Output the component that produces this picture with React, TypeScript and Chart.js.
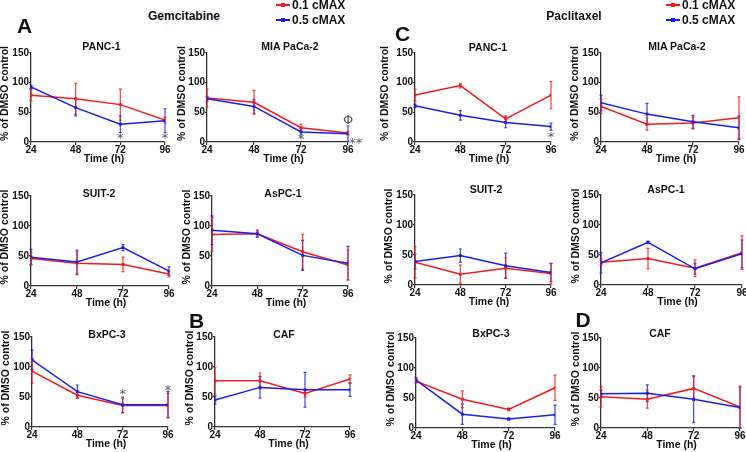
import React, { useEffect, useRef } from 'react';
import { Chart, registerables } from 'chart.js';

Chart.register(...registerables);

// ---------- data ----------
const times = [24, 48, 72, 96];
const yTickValues = [0, 50, 100, 150];
const seriesNames = ['0.1 cMAX', '0.5 cMAX'];
const drugNames = ['Gemcitabine', 'Paclitaxel'];

// Gemcitabine
const gemPanc1Low = [79, 73, 63, 37];
const gemPanc1LowErr = [9, 26, 26, 5];
const gemPanc1High = [93, 58, 30, 36];
const gemPanc1HighErr = [3, 14, 14, 20];

const gemMiaLow = [74, 67, 24, 15];
const gemMiaLowErr = [15, 20, 6, 3];
const gemMiaHigh = [73, 60, 17, 14];
const gemMiaHighErr = [4, 12, 5, 13];

const gemSuit2Low = [46, 38, 36, 20];
const gemSuit2LowErr = [10, 19, 12, 5];
const gemSuit2High = [48, 40, 64, 25];
const gemSuit2HighErr = [13, 20, 5, 7];

const gemAspc1Low = [86, 87, 57, 35];
const gemAspc1LowErr = [28, 5, 29, 25];
const gemAspc1High = [93, 87, 51, 38];
const gemAspc1HighErr = [24, 6, 25, 28];

const gemBxpc3Low = [93, 53, 36, 36];
const gemBxpc3LowErr = [20, 5, 12, 20];
const gemBxpc3High = [112, 59, 37, 37];
const gemBxpc3HighErr = [16, 11, 13, 22];

const gemCafLow = [77, 77, 56, 80];
const gemCafLowErr = [22, 13, 6, 7];
const gemCafHigh = [45, 66, 62, 62];
const gemCafHighErr = [7, 18, 29, 11];

// Paclitaxel
const pacPanc1Low = [79, 95, 39, 79];
const pacPanc1LowErr = [10, 4, 5, 23];
const pacPanc1High = [61, 45, 33, 26];
const pacPanc1HighErr = [3, 8, 9, 6];

const pacMiaLow = [60, 30, 32, 41];
const pacMiaLowErr = [12, 10, 10, 35];
const pacMiaHigh = [66, 47, 34, 24];
const pacMiaHighErr = [13, 18, 11, 20];

const pacSuit2Low = [38, 18, 28, 19];
const pacSuit2LowErr = [26, 15, 17, 17];
const pacSuit2High = [39, 49, 32, 21];
const pacSuit2HighErr = [12, 11, 21, 15];

const pacAspc1Low = [38, 44, 28, 54];
const pacAspc1LowErr = [5, 17, 14, 28];
const pacAspc1High = [37, 71, 27, 52];
const pacAspc1HighErr = [17, 2, 9, 23];

const pacBxpc3Low = [78, 48, 31, 67];
const pacBxpc3LowErr = [3, 14, 2, 21];
const pacBxpc3High = [80, 23, 15, 22];
const pacBxpc3HighErr = [4, 17, 2, 16];

const pacCafLow = [52, 48, 66, 35];
const pacCafLowErr = [17, 15, 20, 35];
const pacCafHigh = [57, 58, 48, 34];
const pacCafHighErr = [6, 14, 39, 34];

// significance marks (data coordinates)
const gemPanc1Marks = [{ x: 72, y: 9, t: '*' }, { x: 96, y: 9, t: '*' }];
const gemMiaMarks = [{ x: 72, y: 7, t: '*' }, { x: 96, y: 39, t: 'Φ' }, { x: 100, y: 0, t: '**' }];
const gemBxpc3Marks = [{ x: 72, y: 57, t: '*' }, { x: 96, y: 64, t: '*' }];
const pacPanc1Marks = [{ x: 96, y: 11, t: '*' }];

// ---------- style ----------
const FONT = '"Liberation Sans", Arial, Helvetica, sans-serif';
const RED = 'rgb(240,28,28)';
const BLUE = 'rgb(28,28,240)';
const AX = '#333';

type Panel = {
  title: string;
  low: number[]; lowErr: number[]; high: number[]; highErr: number[];
  marks?: { x: number; y: number; t: string }[];
  L: number; R: number; T: number; B: number;
  tx: number; ty: number; yt: number;
};

const panels: Panel[] = [
  { title: 'PANC-1', low: gemPanc1Low, lowErr: gemPanc1LowErr, high: gemPanc1High, highErr: gemPanc1HighErr, marks: gemPanc1Marks, L: 31, R: 165, T: 53, B: 142, tx: 101.5, ty: 46, yt: -26 },
  { title: 'MIA PaCa-2', low: gemMiaLow, lowErr: gemMiaLowErr, high: gemMiaHigh, highErr: gemMiaHighErr, marks: gemMiaMarks, L: 207, R: 348, T: 53, B: 142, tx: 290, ty: 46, yt: -25 },
  { title: 'SUIT-2', low: gemSuit2Low, lowErr: gemSuit2LowErr, high: gemSuit2High, highErr: gemSuit2HighErr, L: 31, R: 169, T: 196, B: 286, tx: 99, ty: 193, yt: -26 },
  { title: 'AsPC-1', low: gemAspc1Low, lowErr: gemAspc1LowErr, high: gemAspc1High, highErr: gemAspc1HighErr, L: 212, R: 348, T: 196, B: 286, tx: 283, ty: 193, yt: -25 },
  { title: 'BxPC-3', low: gemBxpc3Low, lowErr: gemBxpc3LowErr, high: gemBxpc3High, highErr: gemBxpc3HighErr, marks: gemBxpc3Marks, L: 32, R: 168, T: 337, B: 427, tx: 107, ty: 334, yt: -26 },
  { title: 'CAF', low: gemCafLow, lowErr: gemCafLowErr, high: gemCafHigh, highErr: gemCafHighErr, L: 215, R: 350, T: 337, B: 427, tx: 284, ty: 334, yt: -25 },
  { title: 'PANC-1', low: pacPanc1Low, lowErr: pacPanc1LowErr, high: pacPanc1High, highErr: pacPanc1HighErr, marks: pacPanc1Marks, L: 415, R: 551, T: 53, B: 142, tx: 488, ty: 47, yt: -30 },
  { title: 'MIA PaCa-2', low: pacMiaLow, lowErr: pacMiaLowErr, high: pacMiaHigh, highErr: pacMiaHighErr, L: 601, R: 739, T: 53, B: 142, tx: 677, ty: 46, yt: -26 },
  { title: 'SUIT-2', low: pacSuit2Low, lowErr: pacSuit2LowErr, high: pacSuit2High, highErr: pacSuit2HighErr, L: 415, R: 551, T: 195, B: 285, tx: 486, ty: 189, yt: -26 },
  { title: 'AsPC-1', low: pacAspc1Low, lowErr: pacAspc1LowErr, high: pacAspc1High, highErr: pacAspc1HighErr, L: 601, R: 742, T: 195, B: 285, tx: 666, ty: 189, yt: -25 },
  { title: 'BxPC-3', low: pacBxpc3Low, lowErr: pacBxpc3LowErr, high: pacBxpc3High, highErr: pacBxpc3HighErr, L: 416, R: 555, T: 338, B: 428, tx: 491, ty: 333, yt: -25 },
  { title: 'CAF', low: pacCafLow, lowErr: pacCafLowErr, high: pacCafHigh, highErr: pacCafHighErr, L: 601, R: 740, T: 338, B: 428, tx: 660, ty: 333, yt: -25 },
];

const PAD_L = 36, PAD_T = 22, PAD_R = 16, PAD_B = 26;

const errorBarsPlugin = {
  id: 'errorBars',
  beforeDatasetsDraw(chart: any) {
    const ctx = chart.ctx;
    const xs = chart.scales.x, ys = chart.scales.y;
    chart.data.datasets.forEach((ds: any) => {
      ctx.save();
      ctx.strokeStyle = ds.borderColor;
      ctx.globalAlpha = 0.85;
      ctx.lineWidth = 1.2;
      ds.data.forEach((pt: any, j: number) => {
        const e = ds.err[j];
        const x = xs.getPixelForValue(pt.x);
        const yTop = ys.getPixelForValue(pt.y + e);
        const yBot = ys.getPixelForValue(Math.max(pt.y - e, 0));
        ctx.beginPath();
        ctx.moveTo(x, yTop); ctx.lineTo(x, yBot);
        ctx.moveTo(x - 1.5, yTop); ctx.lineTo(x + 1.5, yTop);
        ctx.moveTo(x - 1.5, yBot); ctx.lineTo(x + 1.5, yBot);
        ctx.stroke();
      });
      ctx.restore();
    });
  },
};

const labelsPlugin = {
  id: 'panelLabels',
  afterDraw(chart: any) {
    const ctx = chart.ctx;
    const a = chart.chartArea;
    const opts = chart.options.plugins.panelLabels;
    ctx.save();
    ctx.fillStyle = '#111';
    ctx.font = `bold 10.5px ${FONT}`;
    ctx.textAlign = 'center';
    ctx.textBaseline = 'middle';
    // x title
    ctx.fillText('Time (h)', (a.left + a.right) / 2 + 6, a.bottom + 17.5);
    // y title
    ctx.save();
    ctx.translate(a.left + opts.yt, (a.top + a.bottom) / 2 - 4);
    ctx.rotate(-Math.PI / 2);
    ctx.fillText('% of DMSO control', 0, 0);
    ctx.restore();
    // marks
    const xs = chart.scales.x, ys = chart.scales.y;
    ctx.fillStyle = '#555';
    ctx.font = `13px "DejaVu Sans", ${FONT}`;
    (opts.marks || []).forEach((m: any) => {
      ctx.fillText(m.t, xs.getPixelForValue(m.x), ys.getPixelForValue(m.y) + 2);
    });
    ctx.restore();
  },
};

function PanelChart({ p }: { p: Panel }) {
  const ref = useRef<HTMLCanvasElement>(null);
  const W = p.R - p.L + PAD_L + PAD_R;
  const H = p.B - p.T + PAD_T + PAD_B;
  useEffect(() => {
    const mk = (vals: number[], err: number[], color: string, label: string) => ({
      label,
      data: times.map((t, i) => ({ x: t, y: vals[i] })),
      err,
      borderColor: color,
      backgroundColor: color,
      borderWidth: 1.5,
      pointStyle: 'rect',
      pointRadius: 2,
      pointBorderWidth: 0,
      tension: 0,
    });
    const tickFont = { family: FONT, size: 10, weight: 'bold', lineHeight: 1 };
    const chart = new Chart(ref.current as HTMLCanvasElement, {
      type: 'line',
      data: {
        datasets: [
          mk(p.high, p.highErr, BLUE, seriesNames[1]),
          mk(p.low, p.lowErr, RED, seriesNames[0]),
        ] as any,
      },
      options: {
        animation: false,
        responsive: false,
        events: [],
        layout: { padding: { left: 0, top: PAD_T, right: PAD_R, bottom: 0 } },
        plugins: {
          legend: { display: false },
          tooltip: { enabled: false },
          title: { display: false },
          panelLabels: { yt: p.yt, marks: p.marks },
        } as any,
        scales: {
          x: {
            type: 'linear',
            min: times[0],
            max: times[times.length - 1],
            afterBuildTicks: (s: any) => { s.ticks = times.map((v) => ({ value: v })); },
            afterFit: (s: any) => { s.height = PAD_B; },
            grid: { display: true, drawOnChartArea: false, drawTicks: true, tickLength: 3, color: AX, lineWidth: 1.2 },
            border: { display: true, color: AX, width: 1.3 },
            ticks: { font: tickFont as any, color: '#111', padding: 0.5, maxRotation: 0, autoSkip: false },
          },
          y: {
            type: 'linear',
            min: yTickValues[0],
            max: yTickValues[yTickValues.length - 1],
            afterBuildTicks: (s: any) => { s.ticks = yTickValues.map((v) => ({ value: v })); },
            afterFit: (s: any) => { s.width = PAD_L; },
            grid: { display: true, drawOnChartArea: false, drawTicks: true, tickLength: 2, color: AX, lineWidth: 1.2 },
            border: { display: true, color: AX, width: 1.3 },
            ticks: { font: tickFont as any, color: '#111', padding: 0 },
          },
        },
      },
      plugins: [errorBarsPlugin, labelsPlugin],
    });
    return () => chart.destroy();
  }, []);
  return (
    <canvas
      ref={ref}
      width={W}
      height={H}
      style={{ position: 'absolute', left: p.L - PAD_L, top: p.T - PAD_T, width: W, height: H }}
    />
  );
}

function Txt({ x, y, size, children, align }: any) {
  return (
    <div
      style={{
        position: 'absolute', left: x, top: y,
        transform: align === 'left' ? 'translate(0,-50%)' : 'translate(-50%,-50%)',
        fontFamily: FONT, fontSize: size, fontWeight: 'bold', lineHeight: 1,
        whiteSpace: 'nowrap', color: '#111',
      }}
    >
      {children}
    </div>
  );
}

function LegendItem({ x, y, color, label }: any) {
  return (
    <>
      <div style={{ position: 'absolute', left: x, top: y - 0.75, width: 14, height: 1.5, background: color }} />
      <div style={{ position: 'absolute', left: x + 5, top: y - 2, width: 4, height: 4, background: color }} />
      <Txt x={x + 16} y={y} size={12} align="left">{label}</Txt>
    </>
  );
}

export default function App() {
  return (
    <div style={{ position: 'fixed', left: 0, top: 0, width: 746, height: 452, overflow: 'hidden', background: '#fff' }}>
      {panels.map((p, i) => <PanelChart key={i} p={p} />)}
      {panels.map((p, i) => <Txt key={'t' + i} x={p.tx} y={p.ty} size={10.5}>{p.title}</Txt>)}
      <Txt x={184} y={15.5} size={12}>{drugNames[0]}</Txt>
      <Txt x={574} y={15.5} size={12}>{drugNames[1]}</Txt>
      <Txt x={24.5} y={24.5} size={21}>A</Txt>
      <Txt x={196.5} y={320} size={21}>B</Txt>
      <Txt x={402.5} y={32.5} size={21}>C</Txt>
      <Txt x={583} y={319} size={21}>D</Txt>
      <LegendItem x={276} y={5} color={RED} label={seriesNames[0]} />
      <LegendItem x={276} y={20} color={BLUE} label={seriesNames[1]} />
      <LegendItem x={666} y={5} color={RED} label={seriesNames[0]} />
      <LegendItem x={666} y={20} color={BLUE} label={seriesNames[1]} />
    </div>
  );
}
